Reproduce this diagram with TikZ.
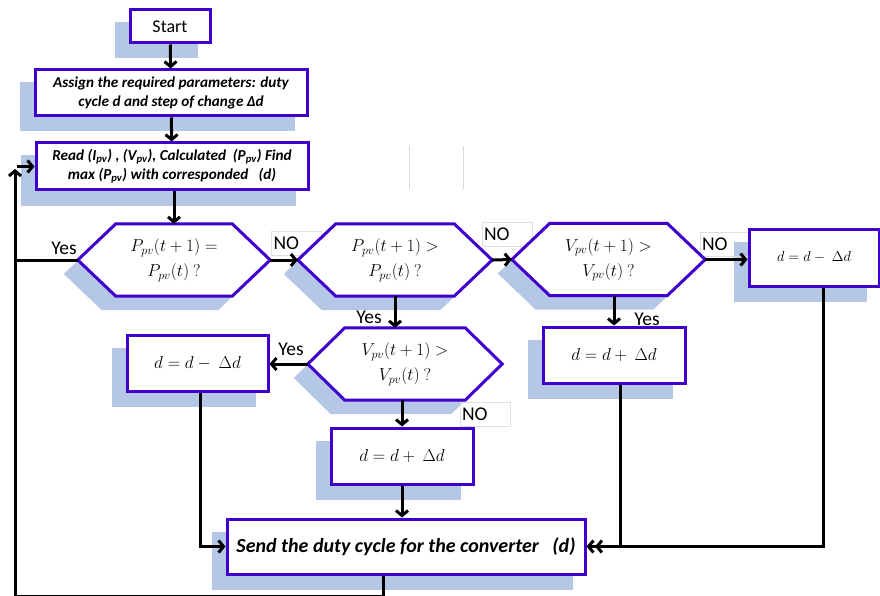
\documentclass[tikz,border=0pt]{standalone}
\usepackage[no-math]{fontspec}
\setmainfont{Carlito}
\usetikzlibrary{arrows.meta}
\pgfdeclarelayer{bg}
\pgfdeclarelayer{lbl}
\pgfdeclarelayer{mid}
\pgfsetlayers{bg,lbl,mid,main}
\definecolor{bord}{RGB}{64,0,204}
\definecolor{shad}{RGB}{180,199,231}
\tikzset{
 box/.style={draw=bord, line width=3pt, fill=white, inner sep=0pt, align=center},
 hexn/.style={inner sep=0pt, align=center, font=\fontsize{17.5}{25}\selectfont},
 hexline/.style={draw=bord, line width=3pt, fill=white, line join=miter},
 conn/.style={line width=3pt},
 arr/.style={conn, -{Straight Barb[length=5pt,width=12pt]}},
 darr/.style={conn, -{Straight Barb[length=5pt,width=12pt]Straight Barb[length=5pt,width=12pt]}},
 yeslbl/.style={font=\fontsize{19.5}{20}\selectfont, inner sep=0pt},
 nolbl/.style={draw=gray!25, line width=0.8pt, font=\fontsize{19.5}{20}\selectfont, inner sep=2pt, text width=46pt, align=left, minimum height=24pt},
 txtbi/.style={font=\fontsize{15.2}{19}\selectfont\bfseries\itshape},
 artifact/.style={draw=gray!30, line width=1pt},
}
\newcommand\hexshape[2]{%
 \begin{pgfonlayer}{bg}
 \fill[shad, transform canvas={xshift=-14pt,yshift=-14pt}] (#1.west) -- ([xshift=#2]#1.north west) -- ([xshift=-#2]#1.north east) -- (#1.east) -- ([xshift=-#2]#1.south east) -- ([xshift=#2]#1.south west) -- cycle;
 \end{pgfonlayer}
 \begin{pgfonlayer}{mid}
 \draw[hexline] (#1.west) -- ([xshift=#2]#1.north west) -- ([xshift=-#2]#1.north east) -- (#1.east) -- ([xshift=-#2]#1.south east) -- ([xshift=#2]#1.south west) -- cycle;
 \end{pgfonlayer}}
\newcommand\rshadow[1]{%
 \begin{pgfonlayer}{bg}
 \fill[shad, transform canvas={xshift=-14pt,yshift=-14pt}] (#1.south west) rectangle (#1.north east);
 \end{pgfonlayer}}
\begin{document}
\begin{tikzpicture}[x=1pt,y=-1pt]
\useasboundingbox (0,0) rectangle (880,596);

% rectangular boxes
\node[box, minimum width=80pt, minimum height=33pt, font=\fontsize{18}{20}\selectfont] (start) at (170,26.5) {Start};
\rshadow{start}
\node[box, txtbi, minimum width=272pt, minimum height=46pt] (assign) at (171,93) {Assign the required parameters: duty\\cycle d and step of change Δd};
\rshadow{assign}
\node[box, txtbi, minimum width=272pt, minimum height=47pt] (read) at (172,166.5) {Read (I\textsubscript{pv}) , (V\textsubscript{pv}), Calculated\ \ (P\textsubscript{pv}) Find\\max (P\textsubscript{pv}) with corresponded\ \ \ (d)};
\rshadow{read}

% hexagons
\node[hexn, minimum width=192pt, minimum height=72pt] (h1) at (174,260) {$P_{pv}(t+1) =$\\$P_{pv}(t)\ ?$};
\hexshape{h1}{38pt}
\node[hexn, minimum width=194pt, minimum height=72pt] (h2) at (395,260) {$P_{pv}(t+1) >$\\$P_{pv}(t)\ ?$};
\hexshape{h2}{38pt}
\node[hexn, minimum width=193pt, minimum height=72pt] (h3) at (608.5,259.5) {$V_{pv}(t+1) >$\\$V_{pv}(t)\ ?$};
\hexshape{h3}{38pt}
\node[hexn, minimum width=194pt, minimum height=72pt] (h4) at (405,364) {$V_{pv}(t+1) >$\\$V_{pv}(t)\ ?$};
\hexshape{h4}{37pt}

% action boxes
\node[box, minimum width=141pt, minimum height=56pt, font=\fontsize{16.8}{18}\selectfont] (lbox) at (197.5,363) {$d = d -\ \Delta d$};
\rshadow{lbox}
\node[box, minimum width=130pt, minimum height=57pt, font=\fontsize{15}{17}\selectfont] (rbox) at (814,257.5) {$d = d -\ \Delta d$};
\rshadow{rbox}
\node[box, minimum width=142pt, minimum height=56pt, font=\fontsize{16}{17}\selectfont] (rm) at (614,355) {$d = d +\ \Delta d$};
\rshadow{rm}
\node[box, minimum width=142pt, minimum height=56pt, font=\fontsize{16}{17}\selectfont] (mid) at (402,456) {$d = d +\ \Delta d$};
\rshadow{mid}
\node[box, minimum width=358pt, minimum height=55pt, font=\fontsize{20}{22}\selectfont\bfseries\itshape] (send) at (406,546.5) {Send the duty cycle for the converter\ \ \ (d)};
\rshadow{send}

% labels
\begin{pgfonlayer}{lbl}
\node[nolbl] (no1) at (296.5,243) {NO};
\node[nolbl] (no2) at (507,234.5) {NO};
\node[nolbl] (no3) at (725,244) {NO};
\node[nolbl] (no4) at (485,414.5) {NO};
\end{pgfonlayer}
\node[yeslbl] (y0) at (64,248) {Yes};
\node[yeslbl] (y1) at (369,317) {Yes};
\node[yeslbl] (y2) at (291,349) {Yes};
\node[yeslbl] (y3) at (647,319) {Yes};

% artifacts
\draw[artifact] (409,146) -- (409,189);
\draw[artifact] (463,146) -- (463,189);

% connectors
\draw[arr] (start) -- (assign);
\draw[arr] (assign) -- (read);
\draw[arr] (read.south -| h1.north) -- (h1.north);
\draw[arr] (h1.east) -- (h2.west);
\draw[arr] (h2.east) -- (h3.west);
\draw[arr] (h3.east) -- (rbox.west |- h3.east);
\draw[arr] (h2.south) -- (h2.south |- h4.north);
\draw[arr] (h4.west) -- (lbox.east |- h4.west);
\draw[arr] (h4.south -| mid.north) -- (mid.north);
\draw[arr] (h3.south -| rm.north) -- (rm.north);
\draw[arr] (mid.south) -- (mid.south |- send.north);
\draw[arr] ([xshift=3pt]lbox.south) |- (send.west);
\draw[darr] ([xshift=9pt]rbox.south) |- (send.east);
\draw[conn] ([xshift=6pt]rm.south) -- ([xshift=6pt]rm.south |- send.east);

% feedback loop
\coordinate (sb) at ([xshift=-23pt]send.south);
\coordinate (lp1) at (15,596.4);
\coordinate (lp2) at (15,169);
\draw[arr] (sb) |- (lp1) -- (lp2);
\draw[arr] ([xshift=2pt]read.west -| lp1) -- (read.west);
\draw[conn] (h1.west) -- (h1.west -| lp1);
\end{tikzpicture}
\end{document}
